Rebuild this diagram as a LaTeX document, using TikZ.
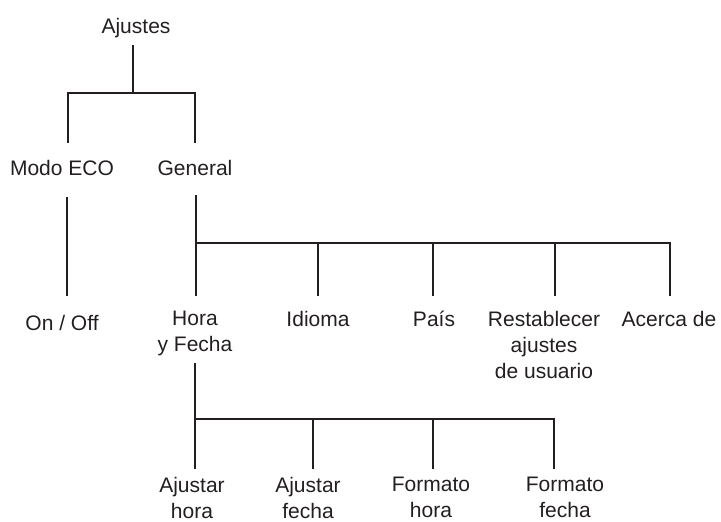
\documentclass[tikz,border=0pt]{standalone}
\usepackage{fontspec}
\setmainfont{Liberation Sans}
\usetikzlibrary{calc}
\definecolor{ink}{HTML}{231F20}

\tikzset{
  lbl/.style={anchor=north,inner sep=0pt,align=center,text=ink},
  tree/.style={line width=1.4pt,draw=ink},
}

\begin{document}
\begin{tikzpicture}[x=0.5pt,y=-0.5pt,font=\fontsize{10.5}{13}\selectfont]
  \useasboundingbox (0,0) rectangle (721,522);

  % Nodos
  \node[lbl] (ajustes) at (136,18) {Ajustes};
  \node[lbl] (eco) at (62,160) {Modo ECO};
  \node[lbl] (general) at (195,160) {General};
  \node[lbl] (onoff) at (62,315) {On / Off};
  \node[lbl] (hora) at (195,311) {Hora\\y Fecha};
  \node[lbl] (idioma) at (318,311) {Idioma};
  \node[lbl] (pais) at (434,311) {País};
  \node[lbl] (reset) at (544,311) {Restablecer\\ajustes\\de usuario};
  \node[lbl] (acerca) at (669,311) {Acerca de};
  \node[lbl] (ajhora) at (192,477) {Ajustar\\hora};
  \node[lbl] (ajfecha) at (308,477) {Ajustar\\fecha};
  \node[lbl] (fmthora) at (431,477) {Formato\\hora};
  \node[lbl] (fmtfecha) at (565,477) {Formato\\fecha};

  % Ajustes
  \coordinate (bar1) at (133,93);
  \draw[tree] ($(ajustes.south)+(-3,7)$) -- (bar1);
  \draw[tree] ($(eco.north)+(6,-17)$) |- (bar1) -| ($(general.north)+(0,-17)$);

  % Modo ECO
  \draw[tree] ($(eco.south)+(5,21)$) -- ($(onoff.north)+(5,-19)$);

  % General
  \coordinate (bar2) at (196,243);
  \draw[tree] ($(general.south)+(1,19)$) -- (bar2);
  \draw[tree] ($(hora.north)+(1,-15)$) |- (bar2) -| ($(acerca.north)+(1,-15)$);
  \foreach \n/\dx in {idioma/0,pais/-1,reset/11}
    \draw[tree] ($(\n.north |- bar2)+(\dx,0)$) -- ($(\n.north)+(\dx,-15)$);

  % Hora y Fecha
  \coordinate (bar3) at (195,419);
  \draw[tree] ($(hora.south)+(0,6.6)$) -- (bar3);
  \draw[tree] ($(ajhora.north)+(3,-8)$) |- (bar3) -| ($(fmtfecha.north)+(-11,-8)$);
  \foreach \n/\dx in {ajfecha/5,fmthora/2}
    \draw[tree] ($(\n.north |- bar3)+(\dx,0)$) -- ($(\n.north)+(\dx,-8)$);
\end{tikzpicture}
\end{document}
